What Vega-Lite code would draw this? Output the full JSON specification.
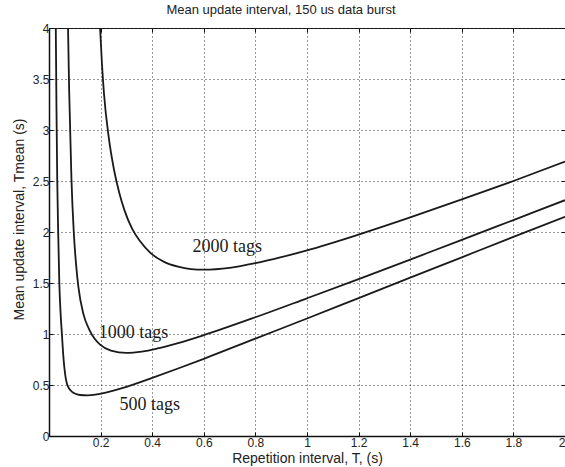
{
  "$schema": "https://vega.github.io/schema/vega-lite/v6.json",
  "autosize": "none",
  "width": 516,
  "height": 408,
  "padding": {"left": 49, "top": 28, "right": 0, "bottom": 31},
  "background": "white",
  "title": {"text": "Mean update interval, 150 us data burst", "font": "Liberation Sans", "fontSize": 13, "fontWeight": "normal", "color": "#222", "offset": 5, "dx": -26},
  "config": {
    "view": {"stroke": "#111", "strokeWidth": 1},
    "axis": {
      "domainColor": "#111", "domainWidth": 1.5,
      "tickColor": "#111", "tickSize": -4, "tickWidth": 1,
      "labelFont": "Liberation Sans", "labelFontSize": 12, "labelColor": "#222",
      "titleFont": "Liberation Sans", "titleFontSize": 14, "titleFontWeight": "normal", "titleColor": "#222",
      "grid": true, "gridDash": [1, 3], "gridColor": "#333", "gridWidth": 1, "gridOpacity": 1
    }
  },
  "datasets": {
    "curves": [
      {"tags": "500", "T": 0.026, "Tmean": 4.1},
      {"tags": "500", "T": 0.029, "Tmean": 3.2},
      {"tags": "500", "T": 0.032, "Tmean": 2.5},
      {"tags": "500", "T": 0.036, "Tmean": 1.95},
      {"tags": "500", "T": 0.04, "Tmean": 1.5},
      {"tags": "500", "T": 0.045, "Tmean": 1.2},
      {"tags": "500", "T": 0.05, "Tmean": 1.0},
      {"tags": "500", "T": 0.055, "Tmean": 0.8},
      {"tags": "500", "T": 0.06, "Tmean": 0.66},
      {"tags": "500", "T": 0.065, "Tmean": 0.565},
      {"tags": "500", "T": 0.07, "Tmean": 0.51},
      {"tags": "500", "T": 0.08, "Tmean": 0.458},
      {"tags": "500", "T": 0.09, "Tmean": 0.432},
      {"tags": "500", "T": 0.1, "Tmean": 0.416},
      {"tags": "500", "T": 0.12, "Tmean": 0.402},
      {"tags": "500", "T": 0.15, "Tmean": 0.398},
      {"tags": "500", "T": 0.18, "Tmean": 0.405},
      {"tags": "500", "T": 0.22, "Tmean": 0.425},
      {"tags": "500", "T": 0.26, "Tmean": 0.452},
      {"tags": "500", "T": 0.3, "Tmean": 0.482},
      {"tags": "500", "T": 0.4, "Tmean": 0.57},
      {"tags": "500", "T": 0.5, "Tmean": 0.662},
      {"tags": "500", "T": 0.6, "Tmean": 0.757},
      {"tags": "500", "T": 0.8, "Tmean": 0.955},
      {"tags": "500", "T": 1.0, "Tmean": 1.152},
      {"tags": "500", "T": 1.2, "Tmean": 1.352},
      {"tags": "500", "T": 1.4, "Tmean": 1.552},
      {"tags": "500", "T": 1.6, "Tmean": 1.752},
      {"tags": "500", "T": 1.8, "Tmean": 1.952},
      {"tags": "500", "T": 2.0, "Tmean": 2.15},
      {"tags": "1000", "T": 0.072, "Tmean": 4.25},
      {"tags": "1000", "T": 0.078, "Tmean": 3.4},
      {"tags": "1000", "T": 0.087, "Tmean": 2.52},
      {"tags": "1000", "T": 0.096, "Tmean": 2.0},
      {"tags": "1000", "T": 0.105, "Tmean": 1.68},
      {"tags": "1000", "T": 0.114, "Tmean": 1.46},
      {"tags": "1000", "T": 0.134, "Tmean": 1.19},
      {"tags": "1000", "T": 0.156, "Tmean": 1.043},
      {"tags": "1000", "T": 0.177, "Tmean": 0.953},
      {"tags": "1000", "T": 0.198, "Tmean": 0.896},
      {"tags": "1000", "T": 0.24, "Tmean": 0.838},
      {"tags": "1000", "T": 0.3, "Tmean": 0.815},
      {"tags": "1000", "T": 0.36, "Tmean": 0.828},
      {"tags": "1000", "T": 0.42, "Tmean": 0.858},
      {"tags": "1000", "T": 0.5, "Tmean": 0.911},
      {"tags": "1000", "T": 0.6, "Tmean": 0.989},
      {"tags": "1000", "T": 0.8, "Tmean": 1.164},
      {"tags": "1000", "T": 1.0, "Tmean": 1.35},
      {"tags": "1000", "T": 1.2, "Tmean": 1.538},
      {"tags": "1000", "T": 1.4, "Tmean": 1.73},
      {"tags": "1000", "T": 1.6, "Tmean": 1.922},
      {"tags": "1000", "T": 1.8, "Tmean": 2.117},
      {"tags": "1000", "T": 2.0, "Tmean": 2.312},
      {"tags": "2000", "T": 0.196, "Tmean": 4.1},
      {"tags": "2000", "T": 0.205, "Tmean": 3.66},
      {"tags": "2000", "T": 0.213, "Tmean": 3.36},
      {"tags": "2000", "T": 0.232, "Tmean": 2.92},
      {"tags": "2000", "T": 0.252, "Tmean": 2.61},
      {"tags": "2000", "T": 0.272, "Tmean": 2.387},
      {"tags": "2000", "T": 0.292, "Tmean": 2.217},
      {"tags": "2000", "T": 0.322, "Tmean": 2.033},
      {"tags": "2000", "T": 0.354, "Tmean": 1.906},
      {"tags": "2000", "T": 0.394, "Tmean": 1.793},
      {"tags": "2000", "T": 0.446, "Tmean": 1.707},
      {"tags": "2000", "T": 0.5, "Tmean": 1.66},
      {"tags": "2000", "T": 0.55, "Tmean": 1.637},
      {"tags": "2000", "T": 0.6, "Tmean": 1.631},
      {"tags": "2000", "T": 0.7, "Tmean": 1.649},
      {"tags": "2000", "T": 0.8, "Tmean": 1.694},
      {"tags": "2000", "T": 0.9, "Tmean": 1.753},
      {"tags": "2000", "T": 1.0, "Tmean": 1.82},
      {"tags": "2000", "T": 1.2, "Tmean": 1.975},
      {"tags": "2000", "T": 1.4, "Tmean": 2.143},
      {"tags": "2000", "T": 1.6, "Tmean": 2.32},
      {"tags": "2000", "T": 1.8, "Tmean": 2.5},
      {"tags": "2000", "T": 2.0, "Tmean": 2.69}
    ],
    "labels": [
      {"label": "2000 tags", "T": 0.556, "Tmean": 1.8},
      {"label": "1000 tags", "T": 0.193, "Tmean": 0.96},
      {"label": "500 tags", "T": 0.273, "Tmean": 0.255}
    ]
  },
  "resolve": {"axis": {"x": "independent", "y": "independent"}},
  "layer": [
    {
      "data": {"name": "curves"},
      "mark": {"type": "line", "clip": true, "color": "#1a1a1a", "strokeWidth": 1.8, "interpolate": "monotone"},
      "encoding": {
        "x": {"field": "T", "type": "quantitative", "scale": {"domain": [0, 2], "nice": false},
          "axis": {"title": "Repetition interval, T, (s)", "values": [0.2, 0.4, 0.6, 0.8, 1, 1.2, 1.4, 1.6, 1.8, 2], "format": "~g", "labelPadding": 5, "titlePadding": 3}},
        "y": {"field": "Tmean", "type": "quantitative", "scale": {"domain": [0, 4], "nice": false},
          "axis": {"title": "Mean update interval, Tmean (s)", "values": [0, 0.5, 1, 1.5, 2, 2.5, 3, 3.5, 4], "format": "~g", "labelPadding": 4, "titlePadding": 6, "titleY": 191}},
        "detail": {"field": "tags"}
      }
    },
    {
      "data": {"name": "labels"},
      "mark": {"type": "text", "font": "Liberation Serif", "fontSize": 18, "align": "left", "baseline": "alphabetic", "color": "#1a1a1a"},
      "encoding": {
        "x": {"field": "T", "type": "quantitative", "axis": null},
        "y": {"field": "Tmean", "type": "quantitative", "axis": null},
        "text": {"field": "label"}
      }
    },
    {
      "data": {"name": "labels"},
      "mark": {"type": "point", "opacity": 0},
      "encoding": {
        "x": {"field": "T", "type": "quantitative",
          "axis": {"orient": "top", "title": null, "labels": false, "grid": false, "domain": false, "values": [0.2, 0.4, 0.6, 0.8, 1, 1.2, 1.4, 1.6, 1.8]}},
        "y": {"field": "Tmean", "type": "quantitative",
          "axis": {"orient": "right", "title": null, "labels": false, "grid": false, "domain": false, "values": [0.5, 1, 1.5, 2, 2.5, 3, 3.5]}}
      }
    }
  ]
}
